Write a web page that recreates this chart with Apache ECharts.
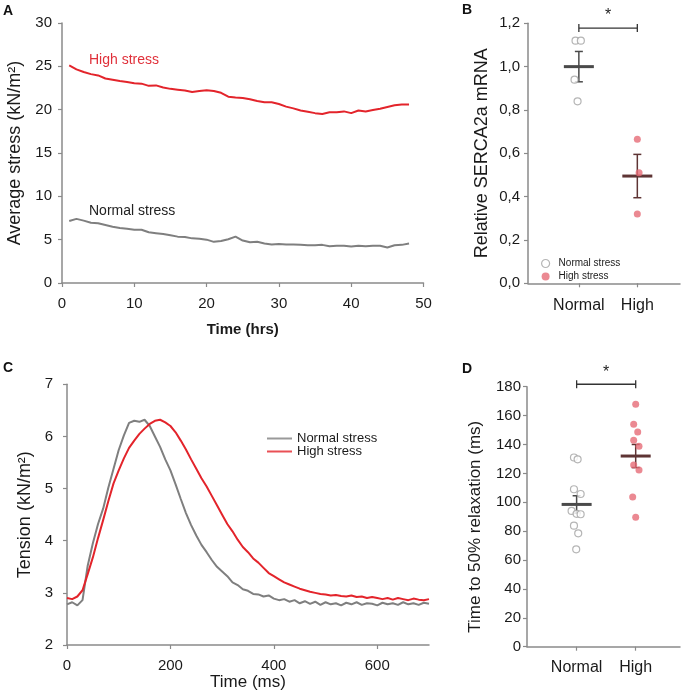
<!DOCTYPE html>
<html>
<head>
<meta charset="utf-8">
<script src="https://cdn.jsdelivr.net/npm/echarts@6/dist/echarts.min.js"></script>
<style>
html,body{margin:0;padding:0;background:#fff;}
#chart{width:683px;height:693px;}
</style>
</head>
<body>
<div id="chart"></div>
<script>
// ---------- Panel A data ----------
const timeHrs = [1,2,3,4,5,6,7,8,9,10,11,12,13,14,15,16,17,18,19,20,21,22,23,24,25,26,27,28,29,30,31,32,33,34,35,36,37,38,39,40,41,42,43,44,45,46,47,48];
const highStressA = [25.1,24.65,24.35,24.1,23.95,23.6,23.45,23.3,23.2,23.05,23.0,22.75,22.8,22.55,22.4,22.3,22.2,22.05,22.15,22.25,22.15,21.95,21.5,21.4,21.35,21.2,21.0,20.85,20.85,20.65,20.35,20.15,19.9,19.75,19.6,19.5,19.7,19.7,19.8,19.6,19.9,19.8,19.95,20.1,20.3,20.5,20.6,20.6];
const normalStressA = [7.15,7.4,7.2,6.95,6.9,6.7,6.5,6.35,6.25,6.15,6.15,5.85,5.75,5.65,5.5,5.35,5.3,5.15,5.1,5.0,4.75,4.85,5.05,5.35,4.9,4.7,4.75,4.55,4.45,4.5,4.45,4.45,4.4,4.35,4.35,4.4,4.25,4.3,4.3,4.2,4.3,4.25,4.3,4.3,4.1,4.35,4.4,4.55];

// ---------- Panel B data ----------
const groupNames = ['Normal','High'];
const sercaNormal = [1.12,1.12,0.94,0.84];
const sercaNormalJitter = [-0.057,0.034,-0.074,-0.022];
const sercaHigh = [0.665,0.51,0.32];
const sercaHighJitter = [0,0.03,0];
const sercaMean = [1.0,0.495];
const sercaSem = [0.07,0.10];
const sercaSigLevel = 1.178;

// ---------- Panel C data ----------
const timeMs = [0,10,20,30,40,50,60,70,80,90,100,110,120,130,140,150,160,170,180,190,200,210,220,230,240,250,260,270,280,290,300,310,320,330,340,350,360,370,380,390,400,410,420,430,440,450,460,470,480,490,500,510,520,530,540,550,560,570,580,590,600,610,620,630,640,650,660,670,680,690,700];
const tensionNormal = [2.78,2.82,2.76,2.86,3.52,3.95,4.32,4.62,5.02,5.38,5.74,6.02,6.26,6.3,6.28,6.32,6.2,6.0,5.8,5.56,5.35,5.08,4.8,4.53,4.3,4.1,3.92,3.78,3.63,3.5,3.41,3.32,3.2,3.15,3.07,3.04,2.98,2.97,2.93,2.95,2.89,2.86,2.88,2.83,2.86,2.8,2.84,2.79,2.83,2.77,2.82,2.78,2.8,2.76,2.81,2.78,2.82,2.77,2.8,2.79,2.76,2.81,2.78,2.8,2.77,2.82,2.78,2.8,2.77,2.81,2.79];
const tensionHigh = [2.9,2.88,2.93,3.05,3.36,3.68,4.05,4.4,4.76,5.1,5.35,5.58,5.78,5.92,6.05,6.15,6.24,6.3,6.32,6.27,6.2,6.08,5.92,5.75,5.56,5.38,5.2,5.04,4.86,4.68,4.5,4.32,4.18,4.02,3.88,3.78,3.66,3.58,3.48,3.38,3.32,3.26,3.2,3.16,3.12,3.08,3.05,3.02,3.0,2.98,2.97,2.95,2.96,2.94,2.93,2.95,2.92,2.93,2.9,2.92,2.9,2.88,2.9,2.87,2.9,2.88,2.86,2.89,2.87,2.86,2.88];
const ticksC_x = [0,200,400,600];

// ---------- Panel D data ----------
const relaxNormal = [131,129.7,109,105.7,94,92,91.7,83.8,78.5,67.4];
const relaxNormalJitter = [-0.045,0.017,-0.045,0.068,-0.085,0,0.068,-0.045,0.027,-0.007];
const relaxHigh = [167.8,154,148.6,142.9,138.7,125.8,122.3,103.6,89.6];
const relaxHighJitter = [0,-0.034,0.034,-0.034,0.056,-0.034,0.056,-0.051,0];
const relaxMean = [98.5,132];
const relaxSem = [6,8];
const relaxSigLevel = 181.7;

// ---------- styles ----------
const FONT = 'Liberation Sans, Arial, sans-serif';
const TXT = '#1a1a1a';
const AX = '#8a8a8a';
const RED = '#e3242b';
const GRAY = '#7f7f7f';
const PINK = '#e66b77';
const HOLLOW = '#a3a3a3';
const meanColors = ['#4a4a4a','#5e3434'];

function axisBase(extra){
  return Object.assign({
    axisLine:{show:true,onZero:false,lineStyle:{color:AX,width:1.5}},
    axisTick:{show:true,length:4,lineStyle:{color:AX,width:1.2}},
    splitLine:{show:false},
    axisLabel:{color:TXT,fontSize:15,fontFamily:FONT},
    nameTextStyle:{color:TXT,fontFamily:FONT}
  }, extra);
}

function meanErrRender(params, api){
  const x = api.value(0), m = api.value(1), s = api.value(2);
  const pm = api.coord([x,m]), ph = api.coord([x,m+s]), pl = api.coord([x,m-s]);
  const c = meanColors[params.dataIndex];
  return {type:'group',children:[
    {type:'line',shape:{x1:ph[0],y1:ph[1],x2:pl[0],y2:pl[1]},style:{stroke:c,lineWidth:1.5}},
    {type:'line',shape:{x1:ph[0]-4,y1:ph[1],x2:ph[0]+4,y2:ph[1]},style:{stroke:c,lineWidth:1.5}},
    {type:'line',shape:{x1:pl[0]-4,y1:pl[1],x2:pl[0]+4,y2:pl[1]},style:{stroke:c,lineWidth:1.5}},
    {type:'line',shape:{x1:pm[0]-15,y1:pm[1],x2:pm[0]+15,y2:pm[1]},style:{stroke:c,lineWidth:3}}
  ]};
}
function sigRender(params, api){
  const p0 = api.coord([api.value(0),api.value(2)]);
  const p1 = api.coord([api.value(1),api.value(2)]);
  const c = '#333';
  return {type:'group',children:[
    {type:'line',shape:{x1:p0[0],y1:p0[1],x2:p1[0],y2:p1[1]},style:{stroke:c,lineWidth:1.3}},
    {type:'line',shape:{x1:p0[0],y1:p0[1]-4,x2:p0[0],y2:p0[1]+4},style:{stroke:c,lineWidth:1.3}},
    {type:'line',shape:{x1:p1[0],y1:p1[1]-4,x2:p1[0],y2:p1[1]+4},style:{stroke:c,lineWidth:1.3}},
    {type:'text',x:(p0[0]+p1[0])/2,y:p0[1]-12,style:{text:'*',fill:'#222',font:'16px '+FONT,align:'center',verticalAlign:'middle'}}
  ]};
}

const pairs = (xs, ys) => ys.map((v,i)=>[xs[i],v]);
const jit = (base, js, ys) => ys.map((v,i)=>[base+js[i],v]);

const option = {
  animation:false,
  backgroundColor:'#fff',
  textStyle:{fontFamily:FONT},
  grid:[
    {left:62,top:23,width:361.5,height:260,outerBoundsMode:'none'},
    {left:528,top:23.3,width:152,height:260,outerBoundsMode:'none'},
    {left:67,top:384.3,width:362,height:260.7,outerBoundsMode:'none'},
    {left:527,top:386.7,width:153,height:260,outerBoundsMode:'none'}
  ],
  xAxis:[
    axisBase({gridIndex:0,type:'value',min:0,max:50,interval:10,
      axisLabel:{color:TXT,fontSize:15,fontFamily:FONT,margin:13},
      name:'Time (hrs)',nameLocation:'middle',nameGap:39,
      nameTextStyle:{color:TXT,fontFamily:FONT,fontSize:15,fontWeight:'bold'}}),
    axisBase({gridIndex:1,type:'value',min:-0.87,max:1.73,
      axisTick:{show:true,length:4,customValues:[0,1],lineStyle:{color:AX,width:1.2}},
      axisLabel:{color:TXT,fontSize:16,fontFamily:FONT,margin:14,customValues:[0,1],formatter:v=>groupNames[Math.round(v)]}}),
    axisBase({gridIndex:2,type:'value',min:0,max:700,
      axisTick:{show:true,length:4,customValues:ticksC_x,lineStyle:{color:AX,width:1.2}},
      axisLabel:{color:TXT,fontSize:15,fontFamily:FONT,margin:13,customValues:ticksC_x},
      name:'Time (ms)',nameLocation:'middle',nameGap:27,
      nameTextStyle:{color:TXT,fontFamily:FONT,fontSize:17}}),
    axisBase({gridIndex:3,type:'value',min:-0.84,max:1.75,
      axisTick:{show:true,length:4,customValues:[0,1],lineStyle:{color:AX,width:1.2}},
      axisLabel:{color:TXT,fontSize:16,fontFamily:FONT,margin:13,customValues:[0,1],formatter:v=>groupNames[Math.round(v)]}})
  ],
  yAxis:[
    axisBase({gridIndex:0,type:'value',min:0,max:30,interval:5,
      axisLabel:{color:TXT,fontSize:15,fontFamily:FONT,margin:10},
      name:'Average stress (kN/m²)',nameLocation:'middle',nameGap:33,
      nameTextStyle:{color:TXT,fontFamily:FONT,fontSize:18}}),
    axisBase({gridIndex:1,type:'value',min:0,max:1.2,interval:0.2,
      axisLabel:{color:TXT,fontSize:15,fontFamily:FONT,margin:8,formatter:v=>v.toFixed(1).replace('.',',')},
      name:'Relative SERCA2a mRNA',nameLocation:'middle',nameGap:37,
      nameTextStyle:{color:TXT,fontFamily:FONT,fontSize:18}}),
    axisBase({gridIndex:2,type:'value',min:2,max:7,interval:1,
      axisLabel:{color:TXT,fontSize:15,fontFamily:FONT,margin:14},
      name:'Tension (kN/m²)',nameLocation:'middle',nameGap:29,
      nameTextStyle:{color:TXT,fontFamily:FONT,fontSize:18}}),
    axisBase({gridIndex:3,type:'value',min:0,max:180,interval:20,
      axisLabel:{color:TXT,fontSize:15,fontFamily:FONT,margin:6},
      name:'Time to 50% relaxation (ms)',nameLocation:'middle',nameGap:43,
      nameTextStyle:{color:TXT,fontFamily:FONT,fontSize:17,padding:[0,20,0,0]}})
  ],
  legend:[
    {left:536,top:252,orient:'vertical',itemGap:0,itemWidth:8,itemHeight:8,
      textStyle:{color:TXT,fontSize:10,fontFamily:FONT,lineHeight:13,padding:[0,0,0,4]},
      selectedMode:false,
      data:[
        {name:'Normal stress',icon:'circle',itemStyle:{color:'#fff',borderColor:HOLLOW,borderWidth:1.2}},
        {name:'High stress',icon:'circle',itemStyle:{color:PINK,borderWidth:0}}
      ]},
    {left:262,top:427,orient:'vertical',itemGap:0,itemWidth:25,itemHeight:2,
      textStyle:{color:TXT,fontSize:13,fontFamily:FONT,lineHeight:13},
      selectedMode:false,
      data:[
        {name:'Normal stress',icon:'rect',itemStyle:{color:GRAY,borderWidth:0}},
        {name:'High stress',icon:'rect',itemStyle:{color:RED,borderWidth:0}}
      ]}
  ],
  series:[
    {name:'Normal stress',type:'scatter',xAxisIndex:1,yAxisIndex:1,symbolSize:7,
      itemStyle:{color:'#fff',borderColor:HOLLOW,borderWidth:1.2},
      data:jit(0,sercaNormalJitter,sercaNormal)},
    {name:'High stress',type:'scatter',xAxisIndex:1,yAxisIndex:1,symbolSize:7,
      itemStyle:{color:PINK,borderWidth:0},
      data:jit(1,sercaHighJitter,sercaHigh)},
    {name:'B mean',type:'custom',xAxisIndex:1,yAxisIndex:1,clip:false,renderItem:meanErrRender,
      data:sercaMean.map((m,i)=>[i,m,sercaSem[i]])},
    {name:'B sig',type:'custom',xAxisIndex:1,yAxisIndex:1,clip:false,renderItem:sigRender,
      data:[[0,1,sercaSigLevel]]},
    {name:'A high',type:'line',xAxisIndex:0,yAxisIndex:0,showSymbol:false,
      lineStyle:{color:RED,width:2},itemStyle:{color:RED},data:pairs(timeHrs,highStressA)},
    {name:'A normal',type:'line',xAxisIndex:0,yAxisIndex:0,showSymbol:false,
      lineStyle:{color:GRAY,width:2},itemStyle:{color:GRAY},data:pairs(timeHrs,normalStressA)},
    {name:'Normal stress',type:'line',xAxisIndex:2,yAxisIndex:2,showSymbol:false,
      lineStyle:{color:GRAY,width:2},itemStyle:{color:GRAY},data:pairs(timeMs,tensionNormal)},
    {name:'High stress',type:'line',xAxisIndex:2,yAxisIndex:2,showSymbol:false,
      lineStyle:{color:RED,width:2},itemStyle:{color:RED},data:pairs(timeMs,tensionHigh)},
    {name:'D normal',type:'scatter',xAxisIndex:3,yAxisIndex:3,symbolSize:7,
      itemStyle:{color:'#fff',borderColor:HOLLOW,borderWidth:1.2},
      data:jit(0,relaxNormalJitter,relaxNormal)},
    {name:'D high',type:'scatter',xAxisIndex:3,yAxisIndex:3,symbolSize:7,
      itemStyle:{color:PINK,borderWidth:0},
      data:jit(1,relaxHighJitter,relaxHigh)},
    {name:'D mean',type:'custom',xAxisIndex:3,yAxisIndex:3,clip:false,renderItem:meanErrRender,
      data:relaxMean.map((m,i)=>[i,m,relaxSem[i]])},
    {name:'D sig',type:'custom',xAxisIndex:3,yAxisIndex:3,clip:false,renderItem:sigRender,
      data:[[0,1,relaxSigLevel]]}
  ],
  graphic:[
    {type:'text',left:3,top:4,style:{text:'A',font:'bold 14px '+FONT,fill:'#111'}},
    {type:'text',left:462,top:3,style:{text:'B',font:'bold 14px '+FONT,fill:'#111'}},
    {type:'text',left:3,top:361,style:{text:'C',font:'bold 14px '+FONT,fill:'#111'}},
    {type:'text',left:462,top:362,style:{text:'D',font:'bold 14px '+FONT,fill:'#111'}},
    {type:'text',left:89,top:53,style:{text:'High stress',font:'14px '+FONT,fill:'#e0303a'}},
    {type:'text',left:89,top:204,style:{text:'Normal stress',font:'14px '+FONT,fill:'#222'}}
  ]
};
const chart = echarts.init(document.getElementById('chart'), null, {renderer:'canvas'});
chart.setOption(option);
</script>
</body>
</html>
